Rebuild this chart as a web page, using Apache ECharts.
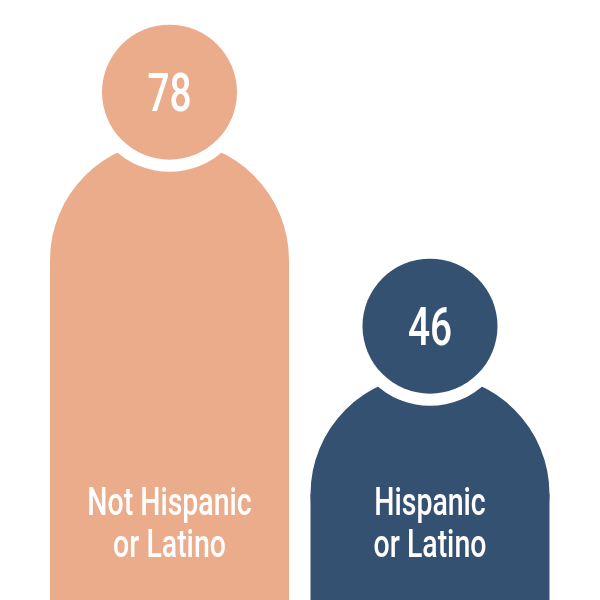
<!DOCTYPE html>
<html>
<head>
<meta charset="utf-8">
<style>html,body{margin:0;padding:0;background:#fff}#c{width:600px;height:600px}</style>
<script src="https://cdn.jsdelivr.net/npm/echarts@6/dist/echarts.min.js"></script>
</head>
<body>
<div id="c"></div>
<script>
const categories = ['Not Hispanic or Latino', 'Hispanic or Latino'];
const values = [78, 46];
const labelLines = [['Not Hispanic', 'or Latino'], ['Hispanic', 'or Latino']];
const colors = ['#EAAC8B', '#355172'];

const FONT = 'Roboto';
const chart = echarts.init(document.getElementById('c'), null, {renderer: 'canvas'});

function renderItem(params, api) {
  const i = api.value(0);
  const top = api.coord([i, api.value(1)]);
  const bottom = params.coordSys.y + params.coordSys.height;
  const band = api.size([1, 0])[0];
  const cx = top[0];
  const fill = colors[i];
  const bodyR = band * 0.4587;
  const headR = band * 0.2591;
  const gapR = band * 0.306;
  const headY = top[1] + headR;
  const bodyY = headY + 168;
  const children = [
    {type: 'circle', shape: {cx: cx, cy: bodyY, r: bodyR}, style: {fill: fill}},
    {type: 'rect', shape: {x: cx - bodyR, y: bodyY, width: bodyR * 2, height: bottom - bodyY}, style: {fill: fill}},
    {type: 'circle', shape: {cx: cx, cy: headY, r: gapR}, style: {fill: '#fff'}},
    {type: 'circle', shape: {cx: cx, cy: headY, r: headR}, style: {fill: fill}},
    {type: 'text', x: cx, y: headY + 32, scaleX: 0.72, style: {
      text: String(values[i]), x: 0, y: 0, align: 'center', verticalAlign: 'bottom',
      fill: '#fff', fontFamily: FONT, fontSize: 54, fontWeight: 500
    }}
  ];
  labelLines[i].forEach(function (line, k) {
    children.push({type: 'text', x: cx, y: bottom - 75 + k * 41.5, scaleX: 0.73, style: {
      text: line, x: 0, y: 0, align: 'center', verticalAlign: 'bottom',
      fill: '#fff', fontFamily: FONT, fontSize: 39, fontWeight: 500
    }});
  });
  return {type: 'group', children: children};
}

chart.setOption({
  animation: false,
  grid: {left: 39.25, right: 39.75, top: 0, bottom: 0},
  xAxis: {type: 'category', data: categories, show: false},
  yAxis: {type: 'value', min: -0.68, max: 81.37, show: false},
  series: [{
    type: 'custom',
    clip: false,
    renderItem: renderItem,
    encode: {x: 0, y: 1},
    data: values.map(function (v, i) { return [i, v]; })
  }]
});
</script>
</body>
</html>
